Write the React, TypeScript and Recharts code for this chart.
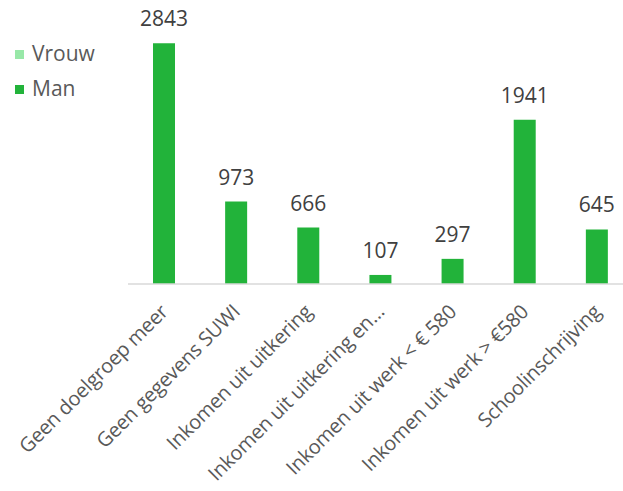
import React from "react";
import { BarChart, Bar, XAxis, YAxis, LabelList } from "recharts";

const categories = [
  "Geen doelgroep meer",
  "Geen gegevens SUWI",
  "Inkomen uit uitkering",
  "Inkomen uit uitkering en…",
  "Inkomen uit werk < € 580",
  "Inkomen uit werk > €580",
  "Schoolinschrijving",
];
const vrouwValues = [0, 0, 0, 0, 0, 0, 0];
const manValues = [2843, 973, 666, 107, 297, 1941, 645];

const data = categories.map((c, i) => ({ name: c, Vrouw: vrouwValues[i], Man: manValues[i] }));

const FONT = "'Open Sans', sans-serif";

const Tick = (props: any) => {
  const { x, y, payload } = props;
  return (
    <g transform={`translate(${x + 5},${y + 21})`}>
      <text
        x={0}
        y={0}
        textAnchor="end"
        transform="rotate(-45)"
        fill="#595959"
        fontSize={20}
        letterSpacing={-0.2}
        fontFamily={FONT}
      >
        {payload.value}
      </text>
    </g>
  );
};

const legendItems = [
  { label: "Vrouw", color: "#98e8a8" },
  { label: "Man", color: "#22b33a" },
];

export default function App() {
  return (
    <div
      style={{
        position: "absolute",
        left: 0,
        top: 0,
        width: 623,
        height: 491,
        overflow: "hidden",
        background: "#fff",
      }}
    >
      <BarChart
        width={633}
        height={491}
        data={data}
        margin={{ top: 30, right: 0, bottom: 0, left: 128 }}
        barSize={22}
      >
        <YAxis hide domain={[0, 3000]} />
        <XAxis
          dataKey="name"
          interval={0}
          height={207}
          tickLine={false}
          axisLine={{ stroke: "#d9d9d9", strokeWidth: 1.5 }}
          tick={<Tick />}
        />
        <Bar dataKey="Vrouw" stackId="a" fill="#98e8a8" isAnimationActive={false} />
        <Bar dataKey="Man" stackId="a" fill="#22b33a" isAnimationActive={false}>
          <LabelList
            dataKey="Man"
            position="top"
            offset={17}
            fill="#404040"
            fontSize={21}
            fontFamily={FONT}
          />
        </Bar>
      </BarChart>
      <svg style={{ position: "absolute", left: 0, top: 0 }} width={130} height={110}>
        {legendItems.map((it, i) => (
          <g key={it.label}>
            <rect x={15} y={50 + i * 35} width={9} height={9} fill={it.color} />
            <text x={32} y={61 + i * 35} fontSize={21} fill="#595959" fontFamily={FONT}>
              {it.label}
            </text>
          </g>
        ))}
      </svg>
    </div>
  );
}
